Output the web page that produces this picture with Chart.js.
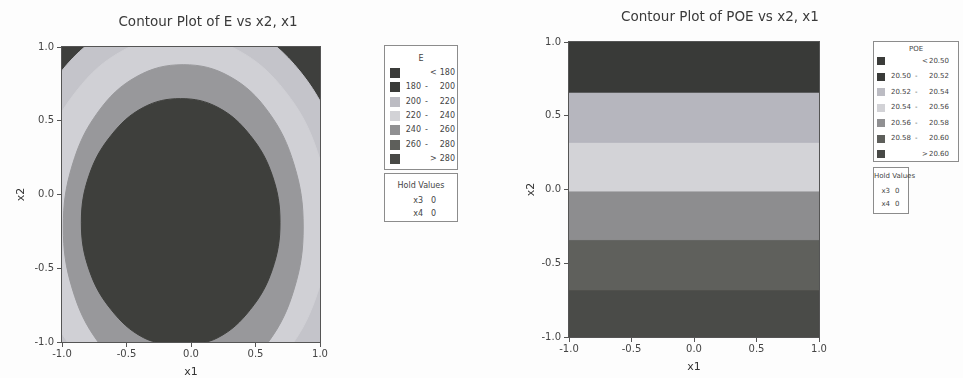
<!DOCTYPE html>
<html>
<head>
<meta charset="utf-8">
<script src="https://cdn.jsdelivr.net/npm/chart.js@4.4.1/dist/chart.umd.min.js"></script>
<style>
  body { margin: 0; width: 963px; height: 378px; background: #fdfdfd; position: relative; overflow: hidden; font-family: 'DejaVu Sans', sans-serif; }
  canvas { position: absolute; top: 0; }
  .ttl { position: absolute; transform: translate(-50%, -50%); white-space: nowrap; font-size: 13.5px; color: #3a3a3a; }
  .box { position: absolute; border: 1px solid #8c8c8c; background: #fff; color: #444; box-sizing: border-box; }
  .box span { position: absolute; white-space: nowrap; line-height: 1; }
  .sw { position: absolute; }
</style>
</head>
<body>
<canvas id="cE" width="340" height="378" style="left:0"></canvas>
<canvas id="cP" width="340" height="378" style="left:520px"></canvas>
<div class="ttl" style="left:208px; top:21px">Contour Plot of E vs x2, x1</div>
<div class="ttl" style="left:720px; top:16px">Contour Plot of POE vs x2, x1</div>
<div id="legE"></div>
<div id="legP"></div>
<script>
const TICKS = [-1, -0.5, 0, 0.5, 1];

// E plot: contour lines as [x1, x2] points, outermost first.
// Each closed line starts and ends below the frame so the seam is hidden.
const E_LINE_200 = [[-0.08, -1.63], [0.42, -1.52], [0.85, -1.21], [1.13, -0.74], [1.23, -0.19], [1.13, 0.36],
  [0.85, 0.83], [0.42, 1.14], [-0.08, 1.25], [-0.58, 1.14], [-1.01, 0.83], [-1.29, 0.36], [-1.39, -0.19],
  [-1.29, -0.74], [-1.01, -1.21], [-0.58, -1.52], [-0.08, -1.63]];
const E_LINE_220 = [[-0.08, -1.46], [0.36, -1.36], [0.73, -1.08], [0.98, -0.67], [1.07, -0.19], [0.98, 0.29],
  [0.73, 0.70], [0.36, 0.98], [-0.08, 1.08], [-0.52, 0.98], [-0.89, 0.70], [-1.14, 0.29], [-1.23, -0.19],
  [-1.14, -0.67], [-0.89, -1.08], [-0.52, -1.36], [-0.08, -1.46]];
const E_LINE_240 = [[-0.06, -1.32], [0.30, -1.24], [0.60, -1.00], [0.80, -0.64], [0.87, -0.22], [0.80, 0.20],
  [0.60, 0.56], [0.30, 0.80], [-0.06, 0.88], [-0.42, 0.80], [-0.72, 0.56], [-0.92, 0.20], [-0.99, -0.22],
  [-0.92, -0.64], [-0.72, -1.00], [-0.42, -1.24], [-0.06, -1.32]];
const E_LINE_260 = [[-0.08, -1.03], [0.21, -0.97], [0.46, -0.78], [0.63, -0.51], [0.69, -0.19], [0.63, 0.13],
  [0.46, 0.40], [0.21, 0.59], [-0.08, 0.65], [-0.37, 0.59], [-0.62, 0.40], [-0.79, 0.13], [-0.85, -0.19],
  [-0.79, -0.51], [-0.62, -0.78], [-0.37, -0.97], [-0.08, -1.03]];
const FRAME = [[-1, -1], [1, -1], [1, 1], [-1, 1]];

const E_LOW  = [null, '180', '200', '220', '240', '260', null];
const E_HIGH = ['180', '200', '220', '240', '260', '280', '280'];

// POE plot: band edges on x2, top to bottom
const POE_BREAKS = [1, 0.66, 0.32, -0.01, -0.34, -0.68, -1];
const POE_LOW  = [null, '20.50', '20.52', '20.54', '20.56', '20.58', null];
const POE_HIGH = ['20.50', '20.52', '20.54', '20.56', '20.58', '20.60', '20.60'];

const HOLD_NAMES = ['x3', 'x4'];
const HOLD_VALUES = [0, 0];

// grey levels, lowest class first
const LEVEL_COLORS = ['#3b3c3a', '#3a3b39', '#bcbcc3', '#d2d2d6', '#909092', '#5e5f5b', '#484946'];
const E_FILL = { below200: '#3e3f3d', c200: '#c4c4ca', c220: '#d0d0d5', c240: '#98989b', core: '#3e3f3c' };
const POE_BAND_COLORS = ['#393a38', '#b6b6be', '#d3d3d7', '#8d8d8f', '#5f605c', '#4a4b48'];
const AXIS = '#555555';
const FONT = "'DejaVu Sans', sans-serif";

function shape(points, color, order, tension) {
  return {
    data: points.map(([x, y]) => ({ x, y })),
    showLine: true,
    fill: 'shape',
    backgroundColor: color,
    borderColor: color,
    borderWidth: 1,
    pointRadius: 0,
    tension: tension || 0,
    clip: 0,
    order,
  };
}

const frame = {
  id: 'frame',
  afterDatasetsDraw(chart) {
    const { ctx, chartArea: a } = chart;
    ctx.save();
    ctx.strokeStyle = AXIS;
    ctx.lineWidth = 1;
    ctx.strokeRect(a.left - 0.5, a.top - 0.5, a.width + 1, a.height + 1);
    ctx.restore();
  },
};

function axis(title, fit, titlePad, tickPad) {
  return {
    type: 'linear', min: -1, max: 1,
    afterBuildTicks: s => { s.ticks = TICKS.map(v => ({ value: v })); },
    ticks: { callback: v => v.toFixed(1), color: '#444', font: { family: FONT, size: 10 }, padding: tickPad, maxRotation: 0, autoSkip: false },
    grid: { drawOnChartArea: false, tickLength: 5, color: AXIS },
    border: { color: AXIS },
    title: { display: true, text: title, color: '#333', font: { family: FONT, size: 11, lineHeight: 1 }, padding: titlePad },
    afterFit: fit,
  };
}

function contourChart(id, datasets, o) {
  return new Chart(document.getElementById(id), {
    type: 'scatter',
    data: { datasets },
    options: {
      responsive: false,
      animation: false,
      events: [],
      layout: { padding: { left: 0, right: o.padRight, top: o.padTop, bottom: 0 } },
      elements: { line: { capBezierPoints: false } },
      plugins: { legend: { display: false }, tooltip: { enabled: false }, title: { display: false } },
      scales: {
        x: axis('x1', s => { s.height = o.xh; }, { top: 0, bottom: o.x1pad }, 1),
        y: axis('x2', s => { s.width = o.yw; }, { top: o.x2pad, bottom: 0 }, 3),
      },
    },
    plugins: [frame],
  });
}

// E vs x2, x1 : each contour filled over the one outside it
contourChart('cE', [
  shape(E_LINE_260, E_FILL.core, 0, 0.38),
  shape(E_LINE_240, E_FILL.c240, 1, 0.38),
  shape(E_LINE_220, E_FILL.c220, 2, 0.38),
  shape(E_LINE_200, E_FILL.c200, 3, 0.38),
  shape(FRAME, E_FILL.below200, 4),
], { padRight: 20, padTop: 47, xh: 36, yw: 62, x1pad: 0, x2pad: 16 });

// POE vs x2, x1
const poeBands = POE_BAND_COLORS.map((col, i) => {
  const hi = POE_BREAKS[i], lo = POE_BREAKS[i + 1];
  return shape([[-1, lo], [1, lo], [1, hi], [-1, hi]], col, i);
});
contourChart('cP', poeBands,
  { padRight: 41, padTop: 42, xh: 41, yw: 49, x1pad: 5, x2pad: 6 });

// legend boxes
function legendBox(host, g) {
  const el = document.createElement('div');
  el.className = 'box';
  Object.assign(el.style, { left: g.left + 'px', top: g.top + 'px', width: g.w + 'px', height: g.h + 'px', fontSize: g.fs + 'px' });
  const head = document.createElement('span');
  head.textContent = g.title;
  Object.assign(head.style, { left: '0', width: '100%', textAlign: 'center', top: (g.headY - g.fs / 2) + 'px' });
  el.appendChild(head);
  g.low.forEach((lo, i) => {
    const y = g.rowY + i * g.rowGap;
    const sw = document.createElement('div');
    sw.className = 'sw';
    Object.assign(sw.style, { left: g.swX + 'px', top: (y - g.sw / 2) + 'px', width: g.sw + 'px', height: g.sw + 'px', background: LEVEL_COLORS[i] });
    el.appendChild(sw);
    const put = (txt, x, align) => {
      const s = document.createElement('span');
      s.textContent = txt;
      s.style.top = (y - g.fs / 2) + 'px';
      if (align === 'right') { s.style.right = (g.w - 2 - x) + 'px'; } else { s.style.left = x + 'px'; }
      el.appendChild(s);
    };
    if (lo === null) {
      put(i === 0 ? '<' : '>', g.symX, 'left');
    } else {
      put(lo, g.lowR, 'right');
      put('-', g.dashX, 'left');
    }
    put(g.high[i], g.highR, 'right');
  });
  host.appendChild(el);

  const hb = document.createElement('div');
  hb.className = 'box';
  Object.assign(hb.style, { left: g.left + 'px', top: g.hold.top + 'px', width: g.hold.w + 'px', height: g.hold.h + 'px', fontSize: g.fs + 'px' });
  const ht = document.createElement('span');
  ht.textContent = 'Hold Values';
  Object.assign(ht.style, { left: '0', width: '100%', textAlign: 'center', top: (g.hold.titleY - g.fs / 2) + 'px' });
  hb.appendChild(ht);
  HOLD_NAMES.forEach((n, i) => {
    const y = g.hold.rowY + i * g.hold.rowGap;
    const a = document.createElement('span');
    a.textContent = n;
    Object.assign(a.style, { right: (g.hold.w - 2 - g.hold.nameR) + 'px', top: (y - g.fs / 2) + 'px' });
    const b = document.createElement('span');
    b.textContent = HOLD_VALUES[i];
    Object.assign(b.style, { left: g.hold.valX + 'px', top: (y - g.fs / 2) + 'px' });
    hb.appendChild(a);
    hb.appendChild(b);
  });
  host.appendChild(hb);
}

legendBox(document.getElementById('legE'), {
  title: 'E', low: E_LOW, high: E_HIGH,
  left: 384, top: 45, w: 74, h: 125, fs: 8,
  headY: 13, rowY: 27, rowGap: 14.3, swX: 5, sw: 10,
  lowR: 36, dashX: 40, symX: 45, highR: 70,
  hold: { top: 173, w: 74, h: 49, titleY: 12, rowY: 27, rowGap: 13, nameR: 38, valX: 46 },
});

legendBox(document.getElementById('legP'), {
  title: 'POE', low: POE_LOW, high: POE_HIGH,
  left: 873, top: 41, w: 86, h: 121, fs: 7,
  headY: 7, rowY: 19, rowGap: 15.5, swX: 3, sw: 8,
  lowR: 37, dashX: 41, symX: 48, highR: 75,
  hold: { top: 167, w: 36, h: 47, titleY: 8, rowY: 23, rowGap: 13, nameR: 16, valX: 21 },
});
</script>
</body>
</html>
